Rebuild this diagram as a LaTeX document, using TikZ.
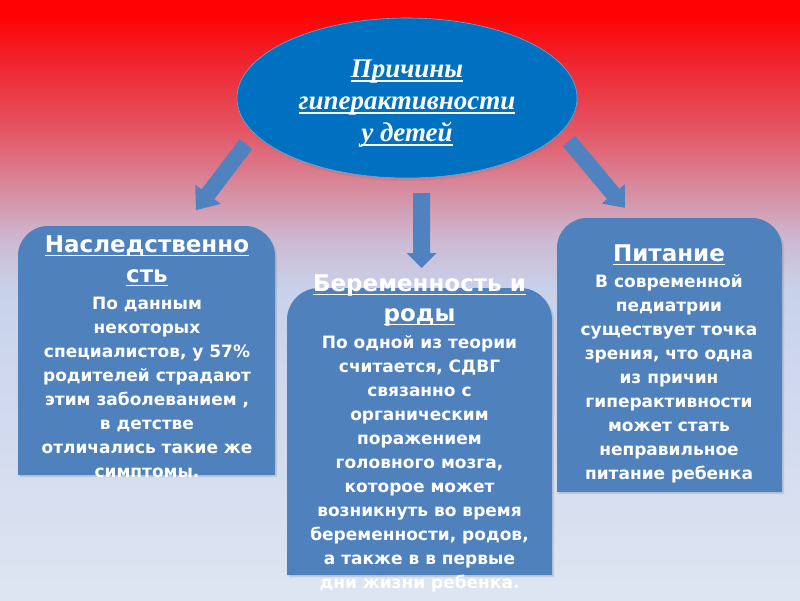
\documentclass[tikz,border=0pt]{standalone}
\usepackage{fontspec}
\setmainfont{Liberation Serif}
\newfontfamily\dvs{DejaVu Sans}
\usetikzlibrary{shapes.geometric,shadows}
\definecolor{boxc}{RGB}{79,129,189}
\definecolor{arrc}{RGB}{80,130,192}
\definecolor{ellc}{RGB}{0,112,192}
\definecolor{bg0}{RGB}{222,229,242}
\definecolor{bg1}{RGB}{200,210,235}
\definecolor{bg2}{RGB}{205,185,210}
\definecolor{bg3}{RGB}{215,140,160}
\definecolor{bg4}{RGB}{228,85,100}
\definecolor{bg5}{RGB}{240,35,45}
\definecolor{bg6}{RGB}{255,2,2}
\pgfdeclareverticalshading{bgsh}{100bp}{color(0bp)=(bg0); color(25bp)=(bg0); color(50.8bp)=(bg1); color(55bp)=(bg2); color(59.2bp)=(bg3); color(64.2bp)=(bg4); color(70bp)=(bg5); color(73.8bp)=(bg6); color(100bp)=(bg6)}
\newcommand\ulx[1]{\setbox0\hbox{#1}\rlap{\rule[-0.14em]{\wd0}{0.06em}}\box0}
\newcommand\ttl[1]{{\fontsize{23}{30}\selectfont\ulx{#1}}}
\newcommand\blockarr[6]{%
  \begin{scope}[shift={(#1)}, rotate=#2]
    \fill[arrc] (0,-#4) -- ({#3-#6},-#4) -- ({#3-#6},-#5) -- (#3,0) -- ({#3-#6},#5) -- ({#3-#6},#4) -- (0,#4) -- cycle;
  \end{scope}}
\tikzset{
  bodytext/.style={font=\dvs\bfseries\fontsize{17}{24}\selectfont, text=white, align=center, inner sep=0pt, anchor=north},
  boxshadow/.style={drop shadow={opacity=0.25, shadow xshift=2pt, shadow yshift=-2pt}}
}
\begin{document}
\begin{tikzpicture}[x=1pt, y=-1pt]
\useasboundingbox (0,0) rectangle (800,600);
\shade[shading=bgsh] (0,0) rectangle (800,600);

% arrows
\coordinate (la) at (246,144);
\coordinate (ma) at (421.5,193);
\coordinate (ra) at (569,141);
\blockarr{la}{232.9}{83}{8}{16}{20}
\blockarr{ma}{270}{75}{8.5}{15}{15}
\blockarr{ra}{-50.1}{87}{8}{15}{18}

% ellipse
\node[ellipse, fill=ellc, draw=white!40!ellc, line width=0.6pt, minimum width=340pt, minimum height=160pt, inner sep=0pt,
      drop shadow={opacity=0.25, shadow xshift=1pt, shadow yshift=-3pt}] (cause) at (407,98) {};
\node[align=center, text=white, font=\bfseries\itshape\fontsize{27}{32}\selectfont, inner sep=0pt, anchor=north] (causetxt) at (407,60)
  {\ulx{Причины}\\\ulx{гиперактивности}\\\ulx{у детей}};

% boxes
\fill[boxc, boxshadow] (18,475) -- (18,256) arc[start angle=180, end angle=90, radius=30pt] -- (245,226) arc[start angle=90, end angle=0, radius=30pt] -- (275,475) -- cycle;
\fill[boxc, boxshadow] (287,575) -- (287,320) arc[start angle=180, end angle=90, radius=32pt] -- (520,288) arc[start angle=90, end angle=0, radius=32pt] -- (552,575) -- cycle;
\fill[boxc, boxshadow] (557,492) -- (557,248) arc[start angle=180, end angle=90, radius=30pt] -- (752,218) arc[start angle=90, end angle=0, radius=30pt] -- (782,492) -- cycle;

\node[bodytext] (hered) at (147,236)
  {\ttl{Наследственно}\\[6pt]\ttl{сть}\\[3pt]По данным\\некоторых\\специалистов, у 57\%\\родителей страдают\\этим заболеванием ,\\в детстве\\отличались такие же\\симптомы.};
\node[bodytext] (preg) at (419.5,275)
  {\ttl{Беременность и}\\[6pt]\ttl{роды}\\[3pt]По одной из теории\\считается, СДВГ\\связанно с\\органическим\\поражением\\головного мозга,\\которое может\\возникнуть во время\\беременности, родов,\\а также в в первые\\дни жизни ребенка.};
\node[bodytext] (food) at (669,245)
  {\ttl{Питание}\\[2pt]В современной\\педиатрии\\существует точка\\зрения, что одна\\из причин\\гиперактивности\\может стать\\неправильное\\питание ребенка};
\end{tikzpicture}
\end{document}
